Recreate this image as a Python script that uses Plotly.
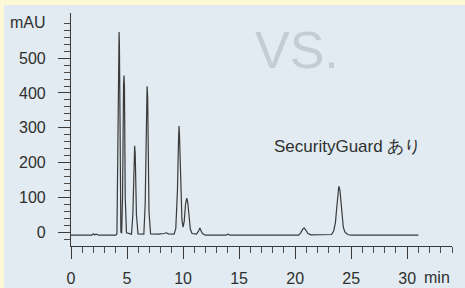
import plotly.graph_objects as go

# Chromatogram trace, points (time in min, absorbance in mAU)
time_min = [0.0, 1.85, 2.0, 2.1, 2.25, 2.35, 2.5, 4.0, 4.1, 4.2, 4.26, 4.29, 4.32, 4.38, 4.45, 4.52,
            4.6, 4.69, 4.73, 4.77, 4.84, 4.95, 5.4, 5.52, 5.63, 5.68, 5.73, 5.84, 5.98, 6.5, 6.62,
            6.74, 6.79, 6.84, 6.96, 7.1, 7.8, 8.3, 8.5, 8.7, 9.2, 9.35, 9.5, 9.6, 9.64, 9.68, 9.78,
            9.9, 10.0, 10.1, 10.22, 10.33, 10.42, 10.52, 10.65, 10.8, 11.2, 11.4, 11.5, 11.6, 11.75,
            12.0, 13.8, 14.0, 14.2, 20.3, 20.5, 20.65, 20.8, 20.95, 21.15, 21.4, 22.0, 22.4, 22.8,
            23.25, 23.45, 23.6, 23.7, 23.8, 23.9, 24.0, 24.1, 24.2, 24.3, 24.45, 24.7, 25.0, 27.8,
            28.2, 28.6, 29.5, 29.9, 30.3, 31.0]
absorbance_mau = [-9, -9, -5, -8, -6, -8, -9, -9, -5, 300, 540, 575, 540, 300, 0, -3,
                  100, 420, 450, 420, 100, -2, -6, 50, 225, 248, 225, 50, -5, -6, 80,
                  390, 419, 390, 60, -5, -6, -4, -2, -5, -6, 10, 120, 270, 305, 280, 130,
                  35, 14, 30, 80, 98, 85, 45, 8, -4, -6, 4, 12, 4, -5,
                  -9, -9, -6, -9, -9, -2, 7, 12, 6, -4, -8, -8, -6, -8,
                  -7, 4, 28, 65, 112, 132, 120, 82, 40, 14, 0, -7, -9, -9,
                  -7, -9, -9, -7, -9, -9]

y_major_vals = [0, 100, 200, 300, 400, 500]
y_major_text = ["0", "100", "200", "300", "400", "500"]
y_minor_vals = [v for v in range(-20, 620, 20) if v not in y_major_vals]
x_major_vals = [0, 5, 10, 15, 20, 25, 30]
x_major_text = ["0", "5", "10", "15", "20", "25", "30"]
x_minor_vals = [v for v in range(0, 35) if v not in x_major_vals]

y_unit = "mAU"
x_unit = "min"
big_label = "VS."
trace_label = "SecurityGuard あり"

FONT = "Liberation Sans, Arial, sans-serif"
INK = "#2f2f2f"
PANEL = "#e1ebf1"
FRAME = "#fdf8d6"
PW, PH = 381, 233  # plot area size in px

fig = go.Figure()
fig.add_trace(go.Scatter(x=time_min, y=absorbance_mau, mode="lines",
                         line=dict(color="#3a3a3a", width=1.2), hoverinfo="skip",
                         showlegend=False))

fig.update_layout(
    width=465, height=288,
    margin=dict(l=71, r=13, t=13, b=42, autoexpand=False),
    paper_bgcolor=PANEL,
    plot_bgcolor=PANEL,
    font=dict(family=FONT, size=16, color=INK),
    shapes=[
        # top frame strip
        dict(type="rect", xref="paper", yref="paper",
             x0=-80 / PW, x1=1 + 30 / PW, y0=1 + 8 / PH, y1=1 + 20 / PH,
             fillcolor=FRAME, line=dict(width=0), layer="below"),
        # left frame strip
        dict(type="rect", xref="paper", yref="paper",
             x0=-80 / PW, x1=-67 / PW, y0=-60 / PH, y1=1 + 20 / PH,
             fillcolor=FRAME, line=dict(width=0), layer="below"),
    ],
)

fig.update_xaxes(
    range=[0, 34], showgrid=False, zeroline=False, automargin=False,
    showline=True, linecolor="#3a3a3a", linewidth=1.2,
    tickmode="array", tickvals=x_major_vals, ticktext=x_major_text,
    ticks="outside", ticklen=12, tickwidth=1.2, tickcolor="#3a3a3a",
    ticklabelstandoff=6,
    minor=dict(tickvals=x_minor_vals, ticks="outside", ticklen=6,
               tickwidth=1, tickcolor="#4a4a4a", showgrid=False),
    tickfont=dict(size=16, color=INK),
)
fig.update_yaxes(
    range=[-40, 630], showgrid=False, zeroline=False, automargin=False,
    showline=True, linecolor="#3a3a3a", linewidth=1.2,
    tickmode="array", tickvals=y_major_vals, ticktext=y_major_text,
    ticks="outside", ticklen=12, tickwidth=1.2, tickcolor="#3a3a3a",
    ticklabelstandoff=9,
    minor=dict(tickvals=y_minor_vals, ticks="outside", ticklen=6,
               tickwidth=1, tickcolor="#4a4a4a", showgrid=False),
    tickfont=dict(size=16, color=INK),
)

fig.add_annotation(text=y_unit, xref="paper", yref="paper", x=(48 - 71) / PW, y=(246 - 22) / PH,
                   xanchor="right", yanchor="middle", showarrow=False,
                   font=dict(size=16, color=INK))
fig.add_annotation(text=x_unit, xref="paper", yref="paper", x=(452 - 71) / PW, y=(246 - 277) / PH,
                   xanchor="right", yanchor="middle", showarrow=False,
                   font=dict(size=16, color=INK))
fig.add_annotation(text=big_label, xref="paper", yref="paper", x=(297 - 71) / PW, y=(246 - 50) / PH,
                   xanchor="center", yanchor="middle", showarrow=False,
                   font=dict(size=52, color="#c6ccd4"))
fig.add_annotation(text=trace_label, xref="paper", yref="paper", x=(347 - 71) / PW, y=(246 - 146) / PH,
                   xanchor="center", yanchor="middle", showarrow=False,
                   font=dict(size=17, color=INK))

fig.write_html(
    "out.html", config={"displayModeBar": False},
    post_script=("document.body.style.margin='0';document.body.style.padding='0';"
                 "document.body.style.background='" + PANEL + "';"
                 "document.documentElement.style.background='" + PANEL + "';"),
)
